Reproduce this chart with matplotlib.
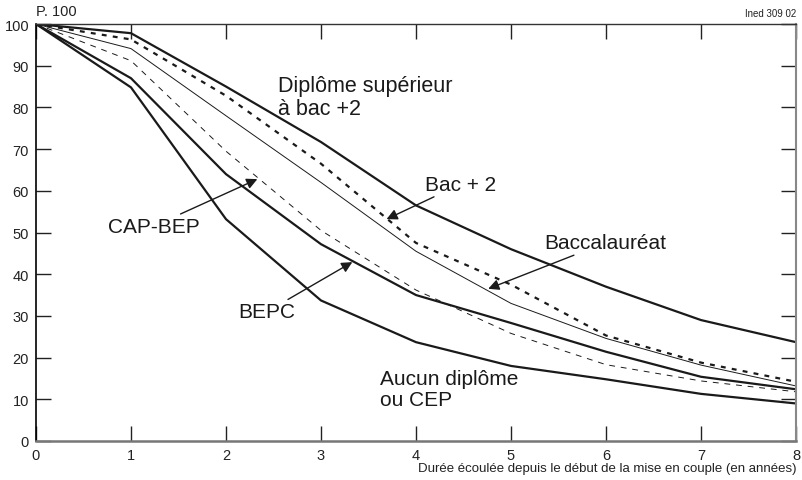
import matplotlib
matplotlib.use('Agg')
import matplotlib.pyplot as plt

plt.rcParams['font.family'] = ['Liberation Sans', 'DejaVu Sans']

annees = [0, 1, 2, 3, 4, 5, 6, 7, 8]

sup_bac2 = [100, 97.8, 85, 71.7, 56.5, 46, 37, 29, 23.7]
bac2 = [100, 96.3, 82.8, 66.5, 47.5, 37.5, 25.3, 18.8, 14.2]
bac = [100, 94.1, 78, 62, 45.5, 33, 24.6, 18.2, 13.2]
cap_bep = [100, 87, 64, 47.2, 35, 28.3, 21.4, 15.4, 12.4]
bepc = [100, 91.2, 69.5, 50.5, 36.2, 25.8, 18.3, 14.4, 11.8]
aucun = [100, 84.8, 53.2, 33.7, 23.7, 18, 14.8, 11.3, 9]

fig = plt.figure(figsize=(8.03, 4.81), dpi=100)
ax = fig.add_axes([0.0448, 0.0811, 0.9465, 0.8669])

noir = '#1a1a1a'
ax.plot(annees, sup_bac2, color=noir, lw=1.6)
ax.plot(annees, bac2, color=noir, lw=1.6, ls=(0, (2.2, 2.8)))
ax.plot(annees, bac, color=noir, lw=0.7)
ax.plot(annees, cap_bep, color=noir, lw=1.6)
ax.plot(annees, bepc, color=noir, lw=0.7, ls=(0, (6, 6)))
ax.plot(annees, aucun, color=noir, lw=1.6)

ax.set_xlim(0, 8)
ax.set_ylim(0, 100)
ax.set_xticks(range(0, 9))
ax.set_yticks(range(0, 101, 10))
ax.tick_params(direction='in', length=11, width=1, colors='#222222',
               labelsize=10.5, pad=5, top=True, right=True)

ax.spines['left'].set_color('black')
ax.spines['left'].set_linewidth(1.2)
ax.spines['bottom'].set_color('#777777')
ax.spines['bottom'].set_linewidth(1.8)
ax.spines['right'].set_color('#888888')
ax.spines['right'].set_linewidth(1.5)
ax.spines['top'].set_color('#333333')
ax.spines['top'].set_linewidth(1.0)

ax.set_xlabel('Durée écoulée depuis le début de la mise en couple (en années)',
              fontsize=9.5, color='#222222', loc='right', labelpad=0)
ax.text(0, 101.5, 'P. 100', fontsize=10.5, color='#222222', ha='left', va='bottom')
ax.text(8, 101.5, 'Ined 309 02', fontsize=7, color='#222222', ha='right', va='bottom')

fs = 15
ax.text(2.55, 82.5, 'Diplôme supérieur\nà bac +2', fontsize=fs + 0.5, ha='left', va='center',
        linespacing=1.1, color=noir)
ax.text(3.62, 12.5, 'Aucun diplôme\nou CEP', fontsize=fs, ha='left', va='center',
        linespacing=1.1, color=noir)

fleche = dict(arrowstyle='-|>', lw=1.0, color=noir, mutation_scale=16,
              shrinkA=0, shrinkB=0)
ax.annotate('Bac + 2', xy=(3.69, 53.2), xytext=(4.09, 61.5), fontsize=fs,
            ha='left', va='center', color=noir, arrowprops=fleche)
ax.annotate('Baccalauréat', xy=(4.76, 36.5), xytext=(5.35, 47.5), fontsize=fs,
            ha='left', va='center', color=noir, arrowprops=fleche)
ax.annotate('CAP-BEP', xy=(2.33, 62.8), xytext=(1.72, 51.5), fontsize=fs,
            ha='right', va='center', color=noir, arrowprops=fleche)
ax.annotate('BEPC', xy=(3.33, 42.9), xytext=(2.73, 31), fontsize=fs,
            ha='right', va='center', color=noir, arrowprops=fleche)

fig.savefig('out.png', dpi=100)
